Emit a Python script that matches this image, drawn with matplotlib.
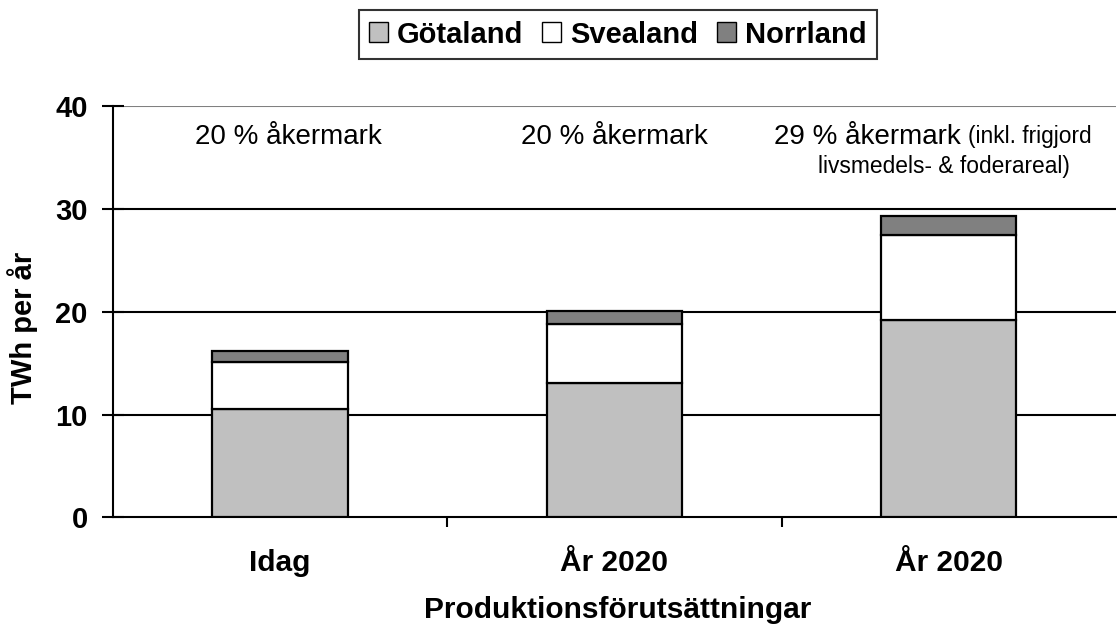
import matplotlib.pyplot as plt
from matplotlib import rcParams
from matplotlib.patches import Patch

rcParams["font.family"] = ["Liberation Sans", "DejaVu Sans"]
rcParams["font.size"] = 20

# Data
categories = ["Idag", "År 2020", "År 2020"]
gotaland = [10.5, 13.1, 19.2]
svealand = [4.6, 5.7, 8.3]
norrland = [1.1, 1.3, 1.8]
series_names = ["Götaland", "Svealand", "Norrland"]
series_colors = ["#c0c0c0", "#ffffff", "#808080"]
annotations = ["20 % åkermark", "20 % åkermark", "29 % åkermark"]

fig = plt.figure(figsize=(11.17, 6.28), dpi=100)
ax = fig.add_axes([0.101, 0.176, 0.898, 0.655])

x = list(range(len(categories)))
bottom2 = [g + s for g, s in zip(gotaland, svealand)]
w = 0.405
ax.bar(x, gotaland, width=w, color=series_colors[0], edgecolor="black", linewidth=1.6, zorder=3)
ax.bar(x, svealand, width=w, bottom=gotaland, color=series_colors[1], edgecolor="black", linewidth=1.6, zorder=3)
ax.bar(x, norrland, width=w, bottom=bottom2, color=series_colors[2], edgecolor="black", linewidth=1.6, zorder=3)

ax.set_xlim(-0.5, len(categories) - 0.5)
ax.set_ylim(0, 40)
ax.set_yticks([0, 10, 20, 30, 40])
for yv in [10, 20, 30]:
    ax.axhline(yv, color="black", linewidth=1.5, zorder=1)
ax.axhline(40, color="#808080", linewidth=1.5, zorder=1)

for side in ["top", "right"]:
    ax.spines[side].set_visible(False)
ax.spines["left"].set_linewidth(1.5)
ax.spines["bottom"].set_linewidth(1.5)

ax.set_xticks(x)
ax.set_xticklabels(categories, fontweight="bold", fontsize=21.5)
ax.tick_params(axis="x", length=0, pad=23)
ax.set_xticks([0.5, 1.5], minor=True)
ax.tick_params(axis="x", which="minor", length=7, width=1.5, direction="out")
ax.tick_params(axis="y", direction="inout", length=16, width=1.5, labelsize=21, pad=10)
for lbl in ax.get_yticklabels():
    lbl.set_fontweight("bold")

ax.set_ylabel("TWh per år", fontweight="bold", fontsize=21)
ax.yaxis.set_label_coords(-0.075, 0.462)
ax.set_xlabel("Produktionsförutsättningar", fontweight="bold", fontsize=21.5)
ax.xaxis.set_label_coords(0.503, -0.225)
ax.xaxis.label.set_va("center")

ax.text(0.024, 37.0, annotations[0], ha="center", va="center", fontsize=20)
ax.text(1.0, 37.0, annotations[1], ha="center", va="center", fontsize=20)
ax.text(1.476, 37.0, annotations[2], ha="left", va="center", fontsize=20)
ax.text(2.058, 37.0, "(inkl. frigjord", ha="left", va="center", fontsize=16.4)
ax.text(1.61, 34.1, "livsmedels- & foderareal)", ha="left", va="center", fontsize=16.4)

handles = [Patch(facecolor=c, edgecolor="black", label=n) for c, n in zip(series_colors, series_names)]
leg = fig.legend(handles=handles, loc="center", bbox_to_anchor=(0.553, 0.945), ncol=3,
                 frameon=True, fancybox=False, edgecolor="black", handlelength=0.66,
                 handleheight=0.66, handletextpad=0.3, columnspacing=0.65,
                 borderpad=0.35, borderaxespad=0, prop={"weight": "bold", "size": 21})
leg.get_frame().set_linewidth(1.5)

fig.savefig("out.png", dpi=100)
